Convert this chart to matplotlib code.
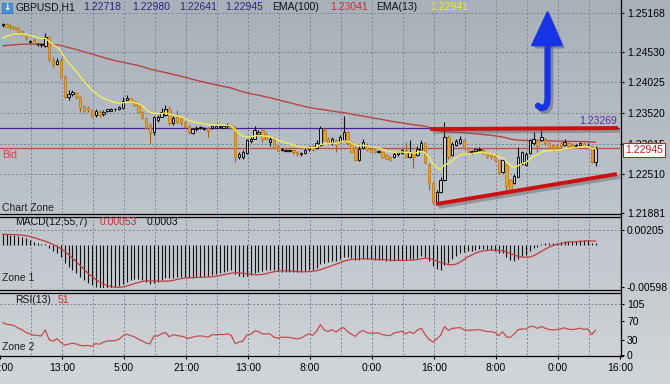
import numpy as np
import pandas as pd
import matplotlib
matplotlib.use("Agg")
import matplotlib.pyplot as plt
from matplotlib.patches import Rectangle, Polygon
from matplotlib.lines import Line2D
from matplotlib.colors import LinearSegmentedColormap
import matplotlib.patheffects as pe

plt.rcParams['font.family'] = ['Liberation Sans', 'DejaVu Sans']

# ---------------- data (GBPUSD H1) ----------------
opens = [1.2497,1.2499,1.2496,1.2494,1.2492,1.2487,1.2482,1.2469,1.2472,1.2465,
         1.2464,1.2462,1.2477,1.2440,1.2433,1.2439,1.2412,1.2378,1.2383,1.2385,
         1.2378,1.2364,1.2361,1.2357,1.2348,1.2354,1.2350,1.2355,1.2356,1.2358,
         1.2359,1.2360,1.2374,1.2376,1.2372,1.2365,1.2354,1.2343,1.2332,1.2320,
         1.2341,1.2346,1.2349,1.2359,1.2335,1.2345,1.2343,1.2337,1.2330,1.2319,
         1.2325,1.2327,1.2326,1.2327,1.2328,1.2328,1.2329,1.2328,1.2330,1.2332,
         1.2327,1.2280,1.2280,1.2286,1.2306,1.2310,1.2317,1.2324,1.2317,1.2305,
         1.2310,1.2297,1.2291,1.2290,1.2290,1.2291,1.2288,1.2284,1.2286,1.2292,
         1.2298,1.2294,1.2299,1.2324,1.2310,1.2302,1.2308,1.2305,1.2308,1.2321,
         1.2304,1.2295,1.2275,1.2294,1.2299,1.2293,1.2291,1.2288,1.2288,1.2283,
         1.2280,1.2280,1.2284,1.2286,1.2291,1.2280,1.2287,1.2283,1.2291,1.2302,
         1.2268,1.2236,1.2206,1.2222,1.2242,1.2312,1.2283,1.2299,1.2303,1.2308,
         1.2294,1.2287,1.2289,1.2291,1.2293,1.2286,1.2285,1.2282,1.2274,1.2255,
         1.2266,1.2242,1.2237,1.2247,1.2268,1.2267,1.2286,1.2302,1.2308,1.2308,
         1.2310,1.2302,1.2299,1.2299,1.2302,1.2299,1.2302,1.2300,1.2298,1.2299,
         1.2302,1.2299,1.2297,1.22718]
highs = [1.2501,1.2501,1.2498,1.2496,1.2493,1.2489,1.2483,1.2473,1.2475,1.2468,
         1.2467,1.2484,1.2479,1.2445,1.2442,1.2442,1.2415,1.2390,1.2390,1.2387,
         1.2380,1.2366,1.2364,1.2359,1.2358,1.2357,1.2357,1.2359,1.2360,1.2361,
         1.2364,1.2379,1.2382,1.2377,1.2374,1.2367,1.2356,1.2345,1.2335,1.2347,
         1.2349,1.2360,1.2365,1.2363,1.2347,1.2357,1.2345,1.2339,1.2332,1.2327,
         1.2331,1.2331,1.2329,1.2329,1.2332,1.2332,1.2332,1.2331,1.2336,1.2334,
         1.2330,1.2288,1.2291,1.2310,1.2314,1.2330,1.2324,1.2326,1.2320,1.2313,
         1.2312,1.2299,1.2294,1.2292,1.2292,1.2293,1.2290,1.2288,1.2294,1.2298,
         1.2299,1.2308,1.2331,1.2327,1.2313,1.2313,1.2310,1.2316,1.2347,1.2323,
         1.2306,1.2298,1.2297,1.2310,1.2302,1.2296,1.2293,1.2291,1.2290,1.2284,
         1.2282,1.2288,1.2290,1.2293,1.2305,1.2308,1.2288,1.2297,1.2308,1.2304,
         1.2270,1.2238,1.2225,1.2246,1.2338,1.2316,1.2305,1.2309,1.2314,1.2310,
         1.2296,1.2291,1.2294,1.2296,1.2295,1.2287,1.2286,1.2284,1.2275,1.2277,
         1.2269,1.2244,1.2252,1.2296,1.2289,1.2287,1.2309,1.2321,1.2309,1.2324,
         1.2312,1.2304,1.2301,1.2301,1.2304,1.2309,1.2304,1.2302,1.2301,1.2305,
         1.2304,1.2302,1.2298,1.22980]
lows = [1.2494,1.2493,1.2491,1.2490,1.2485,1.2481,1.2473,1.2467,1.2465,1.2462,
        1.2461,1.2461,1.2437,1.2428,1.2431,1.2410,1.2376,1.2374,1.2380,1.2375,
        1.2353,1.2353,1.2354,1.2345,1.2346,1.2346,1.2347,1.2353,1.2355,1.2356,
        1.2357,1.2359,1.2371,1.2370,1.2364,1.2353,1.2342,1.2325,1.2302,1.2316,
        1.2338,1.2345,1.2347,1.2332,1.2332,1.2336,1.2333,1.2327,1.2318,1.2317,
        1.2323,1.2325,1.2324,1.2313,1.2326,1.2327,1.2327,1.2327,1.2328,1.2325,
        1.2272,1.2277,1.2277,1.2284,1.2303,1.2309,1.2315,1.2305,1.2308,1.2297,
        1.2292,1.2287,1.2289,1.2288,1.2288,1.2285,1.2282,1.2282,1.2284,1.2290,
        1.2289,1.2292,1.2298,1.2306,1.2300,1.2300,1.2288,1.2303,1.2306,1.2300,
        1.2287,1.2273,1.2273,1.2292,1.2289,1.2287,1.2286,1.2286,1.2278,1.2276,
        1.2273,1.2278,1.2282,1.2284,1.2278,1.2278,1.2261,1.2281,1.2289,1.2268,
        1.2225,1.2202,1.2203,1.2221,1.2240,1.2277,1.2281,1.2298,1.2301,1.2292,
        1.2284,1.2285,1.2287,1.2289,1.2284,1.2278,1.2277,1.2273,1.2251,1.2253,
        1.2225,1.2224,1.2235,1.2246,1.2266,1.2265,1.2284,1.2300,1.2288,1.2306,
        1.2300,1.2292,1.2289,1.2292,1.2295,1.2298,1.2295,1.2294,1.2297,1.2298,
        1.2296,1.2297,1.2270,1.22641]
closes = [1.2498,1.2494,1.2493,1.2491,1.2486,1.2482,1.2475,1.2471,1.2467,1.2466,
          1.2465,1.2478,1.2439,1.2431,1.2438,1.2412,1.2379,1.2383,1.2386,1.2378,
          1.2360,1.2356,1.2357,1.2347,1.2355,1.2348,1.2354,1.2358,1.2358,1.2359,
          1.2362,1.2372,1.2377,1.2371,1.2365,1.2354,1.2343,1.2327,1.2319,1.2345,
          1.2345,1.2354,1.2359,1.2335,1.2344,1.2338,1.2335,1.2329,1.2320,1.2325,
          1.2328,1.2329,1.2327,1.2323,1.2330,1.2330,1.2331,1.2330,1.2332,1.2327,
          1.2280,1.2285,1.2288,1.2308,1.2310,1.2324,1.2321,1.2310,1.2310,1.2310,
          1.2294,1.2289,1.2292,1.2291,1.2291,1.2287,1.2284,1.2286,1.2291,1.2296,
          1.2291,1.2302,1.2327,1.2308,1.2302,1.2310,1.2299,1.2313,1.2320,1.2302,
          1.2288,1.2275,1.2293,1.2304,1.2291,1.2288,1.2288,1.2289,1.2280,1.2277,
          1.2275,1.2285,1.2287,1.2291,1.2280,1.2288,1.2280,1.2293,1.2302,1.2272,
          1.2236,1.2206,1.2222,1.2241,1.2313,1.2280,1.2301,1.2306,1.2310,1.2294,
          1.2286,1.2289,1.2292,1.2293,1.2286,1.2280,1.2279,1.2275,1.2253,1.2275,
          1.2231,1.2226,1.2248,1.2280,1.2287,1.2285,1.2307,1.2310,1.2297,1.2313,
          1.2302,1.2294,1.2291,1.2294,1.2297,1.2305,1.2297,1.2296,1.2299,1.2303,
          1.2298,1.2300,1.2272,1.22945]

# indicator seeds (values at the left edge)
ema100_seed = 1.2462
ema13_seed = 1.2472
ema12_seed = 1.2490
ema55_seed = 1.2476
rsi_gain_seed, rsi_loss_seed = 0.00040, 0.00020

x_labels = ["21:00", "13:00", "5:00", "21:00", "13:00", "8:00", "0:00",
            "16:00", "8:00", "0:00", "16:00"]
price_ticks = [1.25168, 1.24530, 1.24025, 1.23520, 1.23015, 1.22510, 1.21881]
macd_ticks = [0.00205, -0.00598]
rsi_ticks = [105, 70, 30, 0]
hline_level = 1.23269
bid_level = 1.22945
upper_trend_x, upper_trend_y = [111.0, 159.5], [1.23256, 1.23273]
lower_trend_x, lower_trend_y = [112.5, 159.2], [1.22020, 1.22515]
header_values = ["1.22718", "1.22980", "1.22641", "1.22945"]

# ---------------- indicators ----------------
o = np.array(opens); h = np.array(highs); l = np.array(lows); c = np.array(closes)
n = len(c)
xs = np.arange(n) + 0.7


def ema(vals, period, seed):
    a = 2.0 / (period + 1)
    out = np.empty(len(vals))
    prev = seed
    for i, v in enumerate(vals):
        prev = prev + a * (v - prev)
        out[i] = prev
    return out


ema100 = ema(c, 100, ema100_seed)
ema13 = ema(c, 13, ema13_seed)
macd = ema(c, 12, ema12_seed) - ema(c, 55, ema55_seed)
signal = pd.Series(macd).rolling(7, min_periods=1).mean().values

ag, al = rsi_gain_seed, rsi_loss_seed
rsi = []
prev = o[0]
for v in c:
    d = v - prev
    prev = v
    ag = (ag * 12 + max(d, 0)) / 13
    al = (al * 12 + max(-d, 0)) / 13
    rsi.append(100 * ag / (ag + al))
rsi = np.array(rsi)

# ---------------- figure ----------------
W, H = 670, 384
fig = plt.figure(figsize=(6.7, 3.84), dpi=100)
bg = fig.add_axes([0, 0, 1, 1], zorder=-10)
cmap = LinearSegmentedColormap.from_list('bg', ['#a8b0ba', '#bcc2c9', '#d2d5d9'])
bg.imshow(np.linspace(0, 1, 256).reshape(-1, 1), aspect='auto', cmap=cmap,
          extent=[0, 1, 0, 1], origin='upper')
bg.axis('off')


def fx(px):
    return px / W


def fy(py):
    return 1 - py / H


AXW = 620 / W
ax = fig.add_axes([0, fy(213), AXW, 213 / H])
axm = fig.add_axes([0, fy(288), AXW, 71 / H])
axr = fig.add_axes([0, fy(355), AXW, 62 / H])

grid_kw = dict(color='#7b8492', lw=0.7, ls=(0, (2, 2)), zorder=0)
for a in (ax, axm, axr):
    a.set_facecolor('none')
    for s in a.spines.values():
        s.set_visible(False)
    a.set_xlim(0, 160)
    for gx in range(8, 160, 8):
        a.axvline(gx, **grid_kw)
    a.yaxis.tick_right()
    a.tick_params(axis='y', direction='out', length=3, width=0.8, labelsize=7.5,
                  pad=2, colors='black')
    a.tick_params(axis='x', bottom=False, labelbottom=False)

# ---- main price panel ----
ax.set_ylim(1.21873, 1.25382)
for t in price_ticks[:-1]:
    ax.axhline(t, **grid_kw)
ax.set_yticks(price_ticks)
ax.set_yticklabels([f"{t:.5f}" for t in price_ticks])

ax.axhline(hline_level, color='#4a1e9a', lw=0.9, zorder=2)
ax.axhline(bid_level, color='#c84848', lw=0.9, zorder=2)

ax.plot(xs, ema100, color='#b84444', lw=1.0, zorder=3)

up = c >= o
body_lo = np.minimum(o, c)
body_h = np.maximum(np.abs(c - o), 0.00004)
ax.vlines(xs[up], l[up], h[up], color='#101010', lw=0.8, zorder=4)
ax.vlines(xs[~up], l[~up], h[~up], color='#9a6414', lw=0.8, zorder=4)
ax.bar(xs[up], body_h[up], bottom=body_lo[up], width=0.62, facecolor='#c9cdd2',
       edgecolor='#101010', linewidth=0.7, zorder=5)
ax.bar(xs[~up], body_h[~up], bottom=body_lo[~up], width=0.62, facecolor='#eaa22a',
       edgecolor='#b87414', linewidth=0.5, zorder=5)

ax.plot(xs, ema13, color='#f2ee5a', lw=1.0, zorder=6)

shadow = [pe.SimpleLineShadow(offset=(2, -2), shadow_color='#606060', alpha=0.45),
          pe.Normal()]
ax.plot(upper_trend_x, upper_trend_y, color='#cc1010', lw=2.8,
        solid_capstyle='butt', zorder=7, path_effects=shadow)
ax.plot(lower_trend_x, lower_trend_y, color='#cc1010', lw=2.8,
        solid_capstyle='butt', zorder=7, path_effects=shadow)

# blue arrow annotation
blue = '#1733e6'
ax.plot([141.3, 141.3, 141.1, 140.5, 139.7, 138.8],
        [1.2466, 1.2375, 1.2366, 1.2361, 1.2360, 1.2364],
        color=blue, lw=4.5, solid_capstyle='round', zorder=8,
        path_effects=[pe.SimpleLineShadow(offset=(2, -2), shadow_color='#505060',
                                          alpha=0.45), pe.Normal()])
head = Polygon([[141.3, 1.2519], [137.2, 1.2463], [145.1, 1.2463]], closed=True,
               facecolor=blue, edgecolor=blue, zorder=9,
               path_effects=[pe.SimplePatchShadow(offset=(2, -2),
                                                  shadow_rgbFace='#505060', alpha=0.45),
                             pe.Normal()])
ax.add_patch(head)

ax.text(159.2, hline_level + 0.0003, f"{hline_level:.5f}", color='#5a2aa8',
        fontsize=7.5, ha='right', va='bottom', zorder=10)
ax.text(0.5, bid_level - 0.0003, "Bid", color='#c84848', fontsize=7.5,
        ha='left', va='top')
ax.text(0.5, 1.2196, "Chart Zone", color='#202020', fontsize=7.5, ha='left',
        va='center')

# ---- MACD panel ----
axm.set_ylim(-0.00612, 0.00388)
axm.axhline(0.00205, **grid_kw)
axm.set_yticks(macd_ticks)
axm.set_yticklabels([f"{t:.5f}" for t in macd_ticks])
axm.vlines(xs, 0, macd, color='#111111', lw=0.8, zorder=3)
axm.plot(xs, signal, color='#c03c3c', lw=0.9, zorder=4)
axm.text(0.5, -0.0047, "Zone 1", color='#202020', fontsize=7.5, ha='left',
         va='center')

# ---- RSI panel ----
axr.set_ylim(0, 128)
axr.axhline(105, **grid_kw)
axr.set_yticks(rsi_ticks)
axr.set_yticklabels([str(t) for t in rsi_ticks])
axr.plot(xs, rsi, color='#c44c4c', lw=0.9, zorder=3)
axr.text(0.5, 17, "Zone 2", color='#202020', fontsize=7.5, ha='left',
         va='center')
axr.set_xticks(np.arange(0, 161, 16))
axr.set_xticklabels(x_labels)
axr.tick_params(axis='x', bottom=True, labelbottom=True, direction='out',
                length=3, width=0.8, labelsize=7.5, pad=3, colors='black')

# ---- frame lines ----
def fline(x0, y0, x1, y1, lw=1.0, color='black'):
    fig.add_artist(Line2D([fx(x0), fx(x1)], [fy(y0), fy(y1)], lw=lw, color=color))


for yy in (213.5, 216.5, 289.5, 292.5):
    fline(0, yy, 620.5, yy, lw=0.9)
fline(0, 355.5, 623, 355.5, lw=0.9)
fline(620.5, 0, 620.5, 356, lw=0.9)

# ---- header texts ----
hy = fy(7)
fig.add_artist(Rectangle((fx(2), fy(13)), fx(10), 10 / H, facecolor='#4a92d6',
                         edgecolor='#2f6fb0', lw=0.5))
fig.text(fx(7), fy(7.5), "↓", color='white', fontsize=6.5, ha='center',
         va='center', family='DejaVu Sans', weight='bold')
fig.text(fx(15), hy, "GBPUSD,H1", color='#101010', fontsize=7.5, va='center')
for xp, v in zip((83, 132, 179, 225), header_values):
    fig.text(fx(xp), hy, v, color='#26267e', fontsize=7.5, va='center')
fig.text(fx(272), hy, "EMA(100)", color='#101010', fontsize=7.5, va='center')
fig.text(fx(330), hy, "1.23041", color='#c03030', fontsize=7.5, va='center')
fig.text(fx(376), hy, "EMA(13)", color='#101010', fontsize=7.5, va='center')
fig.text(fx(430), hy, "1.22941", color='#eeee30', fontsize=7.5, va='center')

fig.text(fx(15), fy(222), "MACD(12,55,7)", color='#101010', fontsize=7.5, va='center')
fig.text(fx(100), fy(222), "0.00053", color='#c03030', fontsize=7.5, va='center')
fig.text(fx(147), fy(222), "0.0003", color='#101010', fontsize=7.5, va='center')
fig.text(fx(15), fy(300), "RSI(13)", color='#101010', fontsize=7.5, va='center')
fig.text(fx(58), fy(300), "51", color='#c03030', fontsize=7.5, va='center')

# current price box
fig.text(fx(625), fy(150), f"{bid_level:.5f}", color='#c02020', fontsize=7.5,
         va='center', ha='left', zorder=20,
         bbox=dict(boxstyle='square,pad=0.18', facecolor='white',
                   edgecolor='#c02020', lw=0.8))

fig.savefig("out.png", dpi=100)
